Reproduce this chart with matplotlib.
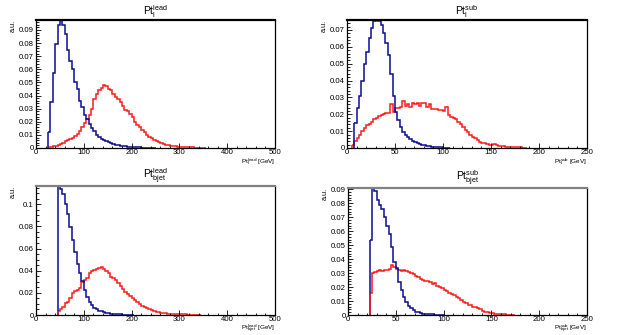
import numpy as np
import matplotlib
matplotlib.use("Agg")
import matplotlib.pyplot as plt
from matplotlib.ticker import MultipleLocator, FuncFormatter

plt.rcParams['font.family'] = ['Liberation Sans', 'DejaVu Sans']
plt.rcParams['mathtext.default'] = 'regular'

# ---------------- data (normalised histograms) ----------------
# lepton leading pT: 5 GeV bins
lep_lead_bw = 5.0
lep_lead_blue_start = 25.0
lep_lead_blue = [0.012, 0.035, 0.057, 0.079, 0.094, 0.098, 0.094, 0.087, 0.075, 0.066,
                 0.060, 0.050, 0.045, 0.036, 0.031, 0.025, 0.022, 0.018, 0.015, 0.013,
                 0.010, 0.0085, 0.007, 0.006, 0.005, 0.0042, 0.0035, 0.003, 0.0025, 0.002,
                 0.0017, 0.0014, 0.0012, 0.001, 0.0008, 0.0007, 0.0006, 0.0005, 0.0004, 0.0003,
                 0.0003, 0.0002, 0.0002, 0.0001, 0.0001]
lep_lead_red_start = 25.0
lep_lead_red = [0.0005, 0.0008, 0.0012, 0.0018, 0.0025, 0.003, 0.004, 0.005, 0.0058, 0.007,
                0.008, 0.0095, 0.011, 0.013, 0.016, 0.019, 0.022, 0.025, 0.030, 0.037,
                0.041, 0.044, 0.046, 0.048, 0.047, 0.045, 0.044, 0.041, 0.039, 0.037,
                0.035, 0.032, 0.029, 0.028, 0.026, 0.024, 0.020, 0.0175, 0.016, 0.0135,
                0.012, 0.010, 0.0086, 0.0075, 0.0063, 0.0055, 0.0045, 0.0038, 0.003, 0.0025,
                0.0021, 0.0018, 0.0015, 0.0012, 0.001, 0.0008, 0.0007, 0.0006, 0.0005, 0.0004,
                0.0004, 0.0003, 0.0003, 0.0002, 0.0002, 0.0001]

# lepton subleading pT: 2.5 GeV bins
lep_sub_bw = 2.5
lep_sub_blue_start = 7.5
lep_sub_blue = [0.0146, 0.0235, 0.031, 0.040, 0.050, 0.057, 0.065, 0.071, 0.0755, 0.076,
                0.0755, 0.073, 0.068, 0.062, 0.055, 0.044, 0.031, 0.0215, 0.0166, 0.0126,
                0.0097, 0.0077, 0.0065, 0.0052, 0.0042, 0.0035, 0.0028, 0.0023, 0.0018, 0.0015,
                0.0012, 0.001, 0.0008, 0.0006, 0.0005, 0.0004, 0.0003, 0.0002, 0.0002, 0.0001]
lep_sub_red_start = 5.0
lep_sub_red = [0.0015, 0.004, 0.006, 0.008, 0.010, 0.012, 0.0134, 0.0145, 0.0155, 0.017,
               0.018, 0.019, 0.0196, 0.020, 0.0205, 0.021, 0.026, 0.0212, 0.0235, 0.024,
               0.0245, 0.028, 0.025, 0.026, 0.0245, 0.0265, 0.026, 0.0265, 0.025, 0.0265,
               0.0265, 0.0245, 0.026, 0.023, 0.023, 0.023, 0.0225, 0.0225, 0.022, 0.0245,
               0.0196, 0.0186, 0.0176, 0.017, 0.0156, 0.0142, 0.0126, 0.0107, 0.0097, 0.0077,
               0.0067, 0.0057, 0.0047, 0.0038, 0.0032, 0.0028, 0.0024, 0.0018, 0.0018, 0.0024,
               0.0018, 0.0012, 0.001, 0.0009, 0.0008, 0.0007, 0.0006, 0.0005, 0.0004, 0.0003,
               0.0003, 0.0002, 0.0001]

# b-jet leading pT: 5 GeV bins
bjet_lead_bw = 5.0
bjet_lead_blue_start = 45.0
bjet_lead_blue = [0.13, 0.114, 0.1096, 0.1006, 0.0915, 0.0795, 0.0676, 0.057, 0.0465, 0.0375,
                  0.031, 0.0225, 0.0165, 0.012, 0.0089, 0.0065, 0.005, 0.004, 0.0032, 0.0025,
                  0.002, 0.0016, 0.0013, 0.001, 0.0008, 0.0006, 0.0005, 0.0004, 0.0003, 0.0002,
                  0.0002, 0.0001]
bjet_lead_red_start = 45.0
bjet_lead_red = [0.004, 0.0054, 0.0075, 0.0105, 0.012, 0.015, 0.0195, 0.0216, 0.0225, 0.024,
                 0.030, 0.0315, 0.0336, 0.0375, 0.0396, 0.0405, 0.0414, 0.0426, 0.043, 0.0414,
                 0.0396, 0.0375, 0.0345, 0.0336, 0.0315, 0.0285, 0.0264, 0.0234, 0.021, 0.0186,
                 0.0171, 0.015, 0.0135, 0.0114, 0.0099, 0.0084, 0.0069, 0.006, 0.0051, 0.0042,
                 0.0036, 0.003, 0.0026, 0.0022, 0.0018, 0.0015, 0.0012, 0.001, 0.0009, 0.0008,
                 0.0007, 0.0006, 0.0005, 0.0005, 0.0004, 0.0004, 0.0003, 0.0002, 0.0002, 0.0001]

# b-jet subleading pT: 2.5 GeV bins
bjet_sub_bw = 2.5
bjet_sub_blue_start = 22.5
bjet_sub_blue = [0.0536, 0.095, 0.089, 0.0821, 0.0786, 0.076, 0.070, 0.064, 0.0583, 0.0488,
                 0.038, 0.0333, 0.0238, 0.0179, 0.0131, 0.0095, 0.0064, 0.0048, 0.0036, 0.0024,
                 0.0019, 0.0014, 0.001, 0.0008, 0.0006, 0.0005, 0.0004, 0.0003, 0.0002, 0.0002,
                 0.0001]
bjet_sub_red_start = 22.5
bjet_sub_red = [0.016, 0.030, 0.031, 0.0315, 0.032, 0.0315, 0.032, 0.0325, 0.033, 0.0355,
                0.0345, 0.033, 0.032, 0.0315, 0.032, 0.0318, 0.031, 0.030, 0.029, 0.028,
                0.027, 0.0255, 0.025, 0.024, 0.0245, 0.0235, 0.0225, 0.023, 0.0205, 0.020,
                0.019, 0.018, 0.0175, 0.016, 0.015, 0.014, 0.013, 0.012, 0.011, 0.0095,
                0.0085, 0.0075, 0.0068, 0.006, 0.0055, 0.0048, 0.004, 0.0032, 0.0025, 0.002,
                0.0015, 0.0012, 0.001, 0.0008, 0.0006, 0.0005, 0.0004, 0.0003, 0.0002, 0.0002,
                0.0001]

titles = [r'Pt$_{l}^{lead}$', r'Pt$_{l}^{sub}$', r'Pt$_{bjet}^{lead}$', r'Pt$_{bjet}^{sub}$']
xlabels = [r'Pt$_{l}^{lead}$ [GeV]', r'Pt$_{l}^{sub}$ [GeV]',
           r'Pt$_{bjet}^{lead}$ [GeV]', r'Pt$_{bjet}^{sub}$ [GeV]']

BLUE = '#0b0b96'
RED = '#ff1a1a'

W, H = 623, 335
fig = plt.figure(figsize=(W / 100, H / 100), dpi=100)

# axes rectangles in pixels: left, top, right, bottom
rects = [(36, 20, 275, 148), (347, 20, 587, 148), (36, 186, 275, 315), (348, 188, 587, 315)]

panels = [
    (lep_lead_bw, lep_lead_blue_start, lep_lead_blue, lep_lead_red_start, lep_lead_red, 500, 0.0976, 0.01, 0.002, 100, 20),
    (lep_sub_bw, lep_sub_blue_start, lep_sub_blue, lep_sub_red_start, lep_sub_red, 250, 0.0759, 0.01, 0.002, 50, 10),
    (bjet_lead_bw, bjet_lead_blue_start, bjet_lead_blue, bjet_lead_red_start, bjet_lead_red, 500, 0.1165, 0.02, 0.005, 100, 20),
    (bjet_sub_bw, bjet_sub_blue_start, bjet_sub_blue, bjet_sub_red_start, bjet_sub_red, 250, 0.0909, 0.01, 0.002, 50, 10),
]

fmt = FuncFormatter(lambda v, p: '0' if abs(v) < 1e-12 else ('%g' % round(v, 6)))

for i, (rect, pan) in enumerate(zip(rects, panels)):
    l, t, r, b = rect
    ax = fig.add_axes([l / W, 1 - b / H, (r - l) / W, (b - t) / H])
    bw, bs, bv, rs, rv, xmax, ymax, ymaj, ymin, xmaj, xmin = pan
    be = bs + bw * np.arange(len(bv) + 1)
    re = rs + bw * np.arange(len(rv) + 1)
    ax.stairs(rv, re, color=RED, lw=1.1, baseline=None)
    ax.stairs(bv, be, color=BLUE, lw=1.1, baseline=None)
    ax.vlines([be[0]], 0, bv[0], color=BLUE, lw=1.1)
    ax.vlines([re[0]], 0, rv[0], color=RED, lw=1.1)
    ax.set_xlim(0, xmax)
    ax.set_ylim(0, ymax)
    ax.xaxis.set_major_locator(MultipleLocator(xmaj))
    ax.xaxis.set_minor_locator(MultipleLocator(xmin))
    ax.yaxis.set_major_locator(MultipleLocator(ymaj))
    ax.yaxis.set_minor_locator(MultipleLocator(ymin))
    ax.yaxis.set_major_formatter(fmt)
    ax.tick_params(which='both', direction='in', top=False, right=False,
                   labelsize=5.6, pad=1.5, width=0.6)
    ax.tick_params(axis='x', pad=0.5)
    ax.tick_params(which='major', length=3.5)
    ax.tick_params(which='minor', length=1.8)
    for s in ax.spines.values():
        s.set_linewidth(0.9)
        s.set_color('black')
    ax.spines['top'].set_linewidth(1.6)
    if i >= 2:
        ax.spines['top'].set_color('#808080')
    ax.set_title(titles[i], fontsize=7.5, pad=3)
    ax.annotate(xlabels[i], xy=(1.0, 0.0), xycoords='axes fraction',
                xytext=(0, -9.8), textcoords='offset points',
                ha='right', va='center', fontsize=4.6)
    ax.text(-0.095, 1.0, 'a.u.', transform=ax.transAxes, ha='center', va='top',
            rotation=90, fontsize=5.3)

fig.savefig('out.png', dpi=100)
